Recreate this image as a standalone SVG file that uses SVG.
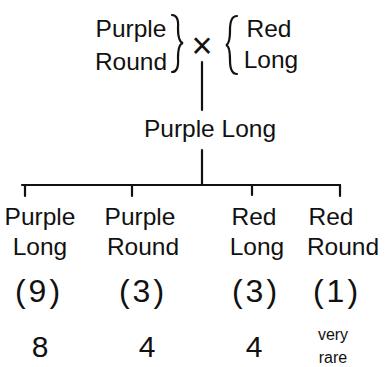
<svg xmlns="http://www.w3.org/2000/svg" width="385" height="367" viewBox="0 0 385 367">
<style>
text{font-family:"Liberation Sans",Arial,sans-serif;fill:#111;text-anchor:middle}
.t{font-size:24.5px}
.n{font-size:32px;letter-spacing:3px}
.d{font-size:30px}
.s{font-size:16px}
.ln{stroke:#111;stroke-width:2.2;fill:none;stroke-linecap:round}
</style>
<rect width="385" height="367" fill="#fff"/>
<g id="parent1">
<text class="t" x="131" y="37">Purple</text>
<text class="t" x="131" y="70">Round</text>
<path class="ln" d="M172 15 Q179 15 178 28 Q178 42 183 43 Q178 44 178 58 Q179 72 172 72"/>
</g>
<g id="cross"><text x="202" y="58" style="font-size:36px">×</text></g>
<g id="parent2">
<path class="ln" d="M237 16 Q230 16 230 30 Q230 44 226 45 Q230 46 230 60 Q230 74 237 74"/>
<text class="t" x="269" y="37">Red</text>
<text class="t" x="271" y="68">Long</text>
</g>
<g id="f1"><text class="t" x="210" y="137">Purple Long</text></g>
<g id="c1"><text class="t" x="40" y="225">Purple</text><text class="t" x="40" y="255">Long</text>
<text class="n" x="39" y="302">(9)</text><text class="d" x="40" y="357">8</text></g>
<g id="c2"><text class="t" x="140" y="225">Purple</text><text class="t" x="143" y="255">Round</text>
<text class="n" x="143" y="302">(3)</text><text class="d" x="147" y="357">4</text></g>
<g id="c3"><text class="t" x="254" y="225">Red</text><text class="t" x="257" y="255">Long</text>
<text class="n" x="256" y="302">(3)</text><text class="d" x="254" y="357">4</text></g>
<g id="c4"><text class="t" x="331" y="225">Red</text><text class="t" x="343" y="255">Round</text>
<text class="n" x="337" y="302">(1)</text><text class="s" x="333" y="340">very</text><text class="s" x="333" y="363">rare</text></g>
<g id="connectors">
<path class="ln" d="M202 62 V110"/>
<path class="ln" d="M202 150 V185"/>
<path class="ln" d="M22 185 H340"/>
<path class="ln" d="M25 185 V196 M132 185 V196 M252 185 V195 M340 185 V196"/>
</g>
</svg>
